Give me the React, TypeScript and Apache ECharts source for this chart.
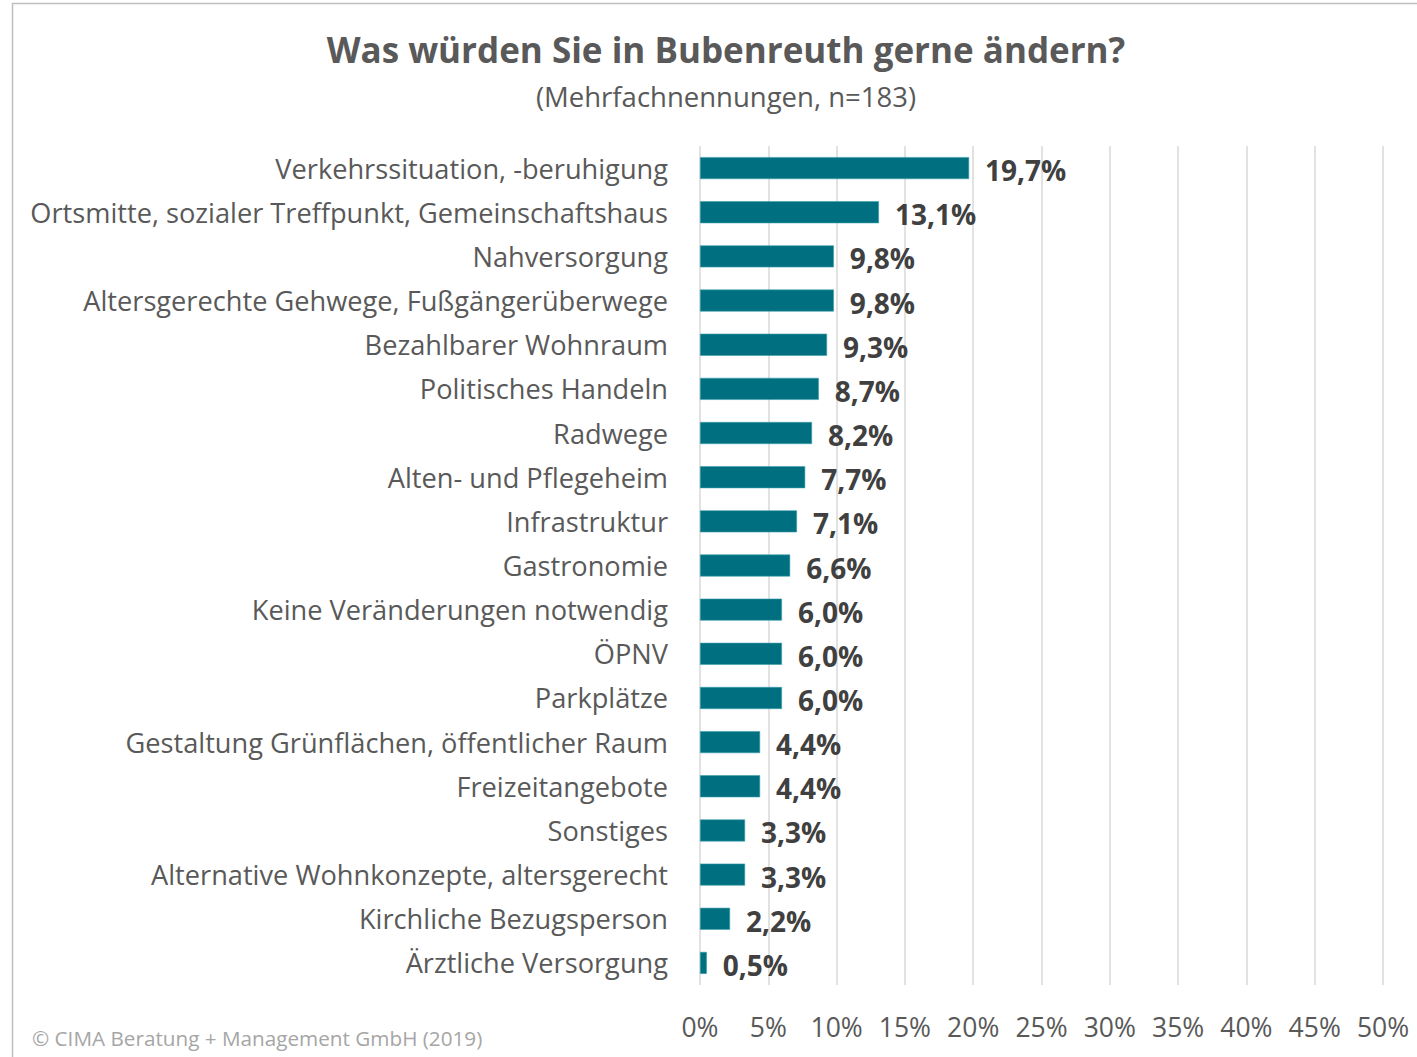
import React, { useEffect, useRef } from "react";
import * as echarts from "echarts";

const categories = [
  "Verkehrssituation, -beruhigung",
  "Ortsmitte, sozialer Treffpunkt, Gemeinschaftshaus",
  "Nahversorgung",
  "Altersgerechte Gehwege, Fußgängerüberwege",
  "Bezahlbarer Wohnraum",
  "Politisches Handeln",
  "Radwege",
  "Alten- und Pflegeheim",
  "Infrastruktur",
  "Gastronomie",
  "Keine Veränderungen notwendig",
  "ÖPNV",
  "Parkplätze",
  "Gestaltung Grünflächen, öffentlicher Raum",
  "Freizeitangebote",
  "Sonstiges",
  "Alternative Wohnkonzepte, altersgerecht",
  "Kirchliche Bezugsperson",
  "Ärztliche Versorgung",
];

const values = [19.7, 13.1, 9.8, 9.8, 9.3, 8.7, 8.2, 7.7, 7.1, 6.6, 6.0, 6.0, 6.0, 4.4, 4.4, 3.3, 3.3, 2.2, 0.5];

const titleText = "Was würden Sie in Bubenreuth gerne ändern?";
const subtitleText = "(Mehrfachnennungen, n=183)";
const sourceText = "© CIMA Beratung + Management GmbH (2019)";

const FONT = "'Open Sans', 'Noto Sans', sans-serif";

export default function App() {
  const ref = useRef<HTMLDivElement>(null);
  useEffect(() => {
    if (!ref.current) return;
    const chart = echarts.init(ref.current, undefined, { renderer: "svg" });
    chart.setOption({
      animation: false,
      backgroundColor: "#ffffff",
      textStyle: { fontFamily: FONT },
      title: [
        {
          text: titleText,
          left: 721,
          top: 27,
          textAlign: "center",
          textStyle: { fontFamily: FONT, fontSize: 35, fontWeight: "bold", color: "#595959" },
        },
        {
          text: subtitleText,
          left: 721,
          top: 77,
          textAlign: "center",
          textStyle: { fontFamily: FONT, fontSize: 27.5, fontWeight: "normal", color: "#595959" },
        },
      ],
      graphic: [
        {
          type: "rect",
          shape: { x: 12.5, y: 3.5, width: 1420, height: 1070 },
          style: { fill: "none", stroke: "#bfbfbf", lineWidth: 1.5 },
          silent: true,
        },
        {
          type: "text",
          left: 32,
          top: 1027,
          style: { text: sourceText, fontFamily: FONT, fontSize: 20.7, fill: "#a6a6a6" },
        },
      ],
      grid: { left: 700, right: 34, top: 146, bottom: 72, containLabel: false },
      xAxis: {
        type: "value",
        min: 0,
        max: 50,
        interval: 5,
        axisLine: { show: false },
        axisTick: { show: false },
        splitLine: { show: true, lineStyle: { color: "#d9d9d9", width: 1.5 } },
        axisLabel: {
          formatter: "{value}%",
          fontFamily: FONT,
          fontSize: 26.5,
          color: "#595959",
          margin: 28,
        },
      },
      yAxis: {
        type: "category",
        data: categories,
        inverse: true,
        axisLine: { show: false },
        axisTick: { show: false },
        axisLabel: { fontFamily: FONT, fontSize: 27.2, color: "#595959", margin: 32 },
      },
      series: [
        {
          type: "bar",
          data: values,
          barWidth: 22,
          itemStyle: { color: "#006F80", borderColor: "#3aa0ad", borderWidth: 0.6 },
          label: {
            show: true,
            position: "right",
            distance: 16,
            formatter: (p: any) => p.value.toFixed(1).replace(".", ",") + "%",
            fontFamily: FONT,
            fontSize: 28,
            fontWeight: "bold",
            color: "#404040",
            offset: [0, 2],
          },
        },
      ],
    });
    return () => chart.dispose();
  }, []);
  return (
    <div
      ref={ref}
      style={{ position: "fixed", left: 0, top: 0, width: 1417, height: 1057 }}
    />
  );
}
